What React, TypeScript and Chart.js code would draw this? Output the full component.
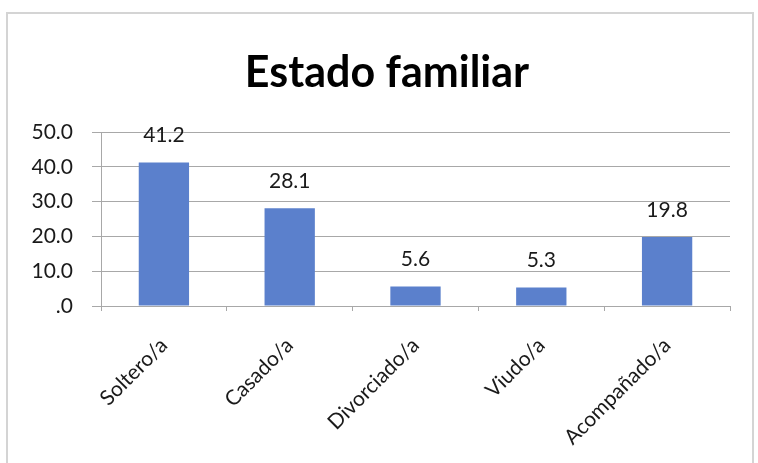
import React, { useEffect, useRef } from "react";
import { Chart, registerables } from "chart.js";

Chart.register(...registerables);

const categories = ["Soltero/a", "Casado/a", "Divorciado/a", "Viudo/a", "Acompañado/a"];
const values = [41.2, 28.1, 5.6, 5.3, 19.8];
const titleText = "Estado familiar";
const yMin = 0;
const yMax = 50;
const yStep = 10;

const FONT = "Lato, 'Open Sans', sans-serif";

const frame = {
  id: "frame",
  beforeDraw(chart: any) {
    const ctx = chart.ctx;
    ctx.save();
    ctx.fillStyle = "#ffffff";
    ctx.fillRect(0, 0, chart.width, chart.height);
    ctx.strokeStyle = "#d4d4d4";
    ctx.lineWidth = 2;
    ctx.strokeRect(7, 13, 746, 470);
    ctx.fillStyle = "#000000";
    ctx.font = `bold 43px ${FONT}`;
    ctx.textAlign = "center";
    ctx.textBaseline = "middle";
    ctx.fillText(titleText, 387, 73);
    ctx.restore();
  },
};

const valueLabels = {
  id: "valueLabels",
  afterDatasetsDraw(chart: any) {
    const ctx = chart.ctx;
    const meta = chart.getDatasetMeta(0);
    ctx.save();
    ctx.fillStyle = "#1a1a1a";
    ctx.font = `21px ${FONT}`;
    ctx.textAlign = "center";
    ctx.textBaseline = "middle";
    meta.data.forEach((bar: any, i: number) => {
      const v = chart.data.datasets[0].data[i] as number;
      ctx.fillText(v.toFixed(1), bar.x, bar.y - 27);
    });
    ctx.restore();
  },
};

export default function App() {
  const ref = useRef<HTMLCanvasElement>(null);
  useEffect(() => {
    if (!ref.current) return;
    const chart = new Chart(ref.current, {
      type: "bar",
      data: {
        labels: categories,
        datasets: [
          {
            data: values,
            backgroundColor: "#5b80cc",
            borderWidth: 0,
            categoryPercentage: 1,
            barPercentage: 0.4,
          },
        ],
      },
      options: {
        responsive: false,
        animation: false,
        layout: { padding: { left: 0, right: 28, top: 132, bottom: 0 } },
        plugins: {
          legend: { display: false },
          tooltip: { enabled: false },
          title: { display: false },
        },
        scales: {
          x: {
            offset: true,
            grid: {
              offset: true,
              drawOnChartArea: false,
              drawTicks: true,
              tickLength: 5,
              color: "#a8a8a8",
            },
            border: { display: true, color: "#a8a8a8", width: 1 },
            ticks: {
              color: "#1a1a1a",
              font: { family: FONT, size: 21 },
              maxRotation: 45,
              minRotation: 45,
              padding: 22,
            },
            afterFit(scale: any) {
              scale.height = 157;
            },
          },
          y: {
            min: yMin,
            max: yMax,
            ticks: {
              stepSize: yStep,
              color: "#1a1a1a",
              font: { family: FONT, size: 21 },
              padding: 19,
              callback: (v: any) => (Number(v) === 0 ? ".0" : Number(v).toFixed(1)),
            },
            grid: { color: "#a8a8a8", tickLength: 9, lineWidth: 1 },
            border: { display: true, color: "#a8a8a8", width: 1 },
            afterFit(scale: any) {
              scale.width = 101;
            },
          },
        },
      },
      plugins: [frame, valueLabels],
    });
    return () => chart.destroy();
  }, []);
  return (
    <div style={{ position: "fixed", left: 0, top: 0, width: 758, height: 463, background: "#fff" }}>
      <canvas ref={ref} width={758} height={463} />
    </div>
  );
}
